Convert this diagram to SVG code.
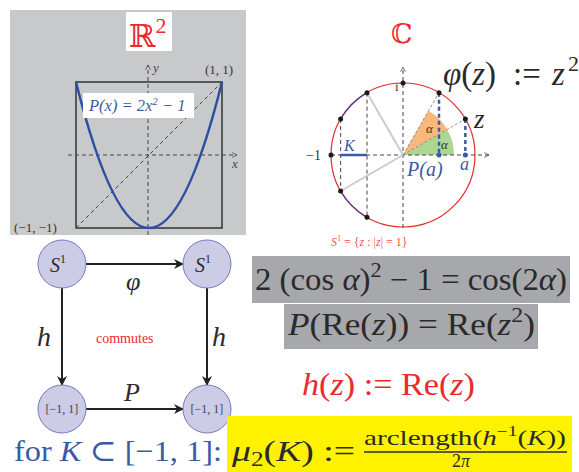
<svg xmlns="http://www.w3.org/2000/svg" width="579" height="472" viewBox="0 0 579 472">
<style>
text{font-family:"Liberation Serif","Times New Roman","DejaVu Serif",serif}
.i{font-style:italic}
.red{fill:#ea2a2f}
.blue{fill:#3a5aa8}
.dk{fill:#2a2a2a}
.dash{stroke:#444;stroke-width:1;stroke-dasharray:4,3;fill:none}
.dot{fill:#1a1a1a}
.node circle{fill:#cccce6;stroke:#7777c0;stroke-width:1}
.arr{stroke:#222;stroke-width:2;fill:none;marker-end:url(#ah)}
</style>
<defs>
<marker id="ah" viewBox="0 0 10 10" refX="9" refY="5" markerWidth="5" markerHeight="5" orient="auto"><path d="M0,0 L10,5 L0,10 L3,5 Z" fill="#222"/></marker>
<marker id="sa" viewBox="0 0 10 10" refX="9" refY="5" markerWidth="6" markerHeight="6" orient="auto"><path d="M1,1 L9,5 L1,9" fill="none" stroke="#444" stroke-width="1.2"/></marker>
</defs>
<rect width="579" height="472" fill="#fff"/>

<!-- left panel R^2 -->
<g id="plot-r2">
<rect x="10" y="10" width="236" height="225" fill="#c8c9cb"/>
<rect x="126" y="12" width="46" height="39" fill="#fff"/>
<text x="129" y="47" class="red" font-size="32">ℝ<tspan font-size="22" dy="-14">2</tspan></text>
<rect x="76" y="82" width="146" height="146" fill="none" stroke="#333" stroke-width="1.5"/>
<line x1="148" y1="235" x2="148" y2="65" class="dash" stroke-width="1.6" marker-end="url(#sa)"/>
<line x1="68" y1="155" x2="237" y2="155" class="dash" stroke-width="1.3" marker-end="url(#sa)"/>
<line x1="76" y1="228" x2="222" y2="82" class="dash" stroke-width="0.9" stroke-dasharray="3,3"/>
<path d="M76,82 Q149,374 222,82" fill="none" stroke="#2d4fa3" stroke-width="2.5"/>
<rect x="83" y="93" width="111" height="25" fill="#fff"/>
<text x="89" y="111" class="i blue" font-size="16.5">P(x) = 2x<tspan font-size="11" dy="-6">2</tspan><tspan dy="6"> − 1</tspan></text>
<text x="153" y="72" class="i" font-size="13" fill="#444">y</text>
<text x="232" y="168" class="i" font-size="13" fill="#444">x</text>
<text x="205" y="74" font-size="13" fill="#333">(1, 1)</text>
<text x="14" y="232" font-size="13" fill="#333">(−1, −1)</text>
</g>

<!-- complex plane -->
<g id="plot-c">
<text x="391" y="43" class="red" font-size="27">ℂ</text>
<text y="85" font-size="33" fill="#2a2a2a"><tspan x="443" font-style="italic">φ</tspan><tspan>(</tspan><tspan font-style="italic">z</tspan><tspan>)</tspan><tspan x="513">:=</tspan><tspan x="552" font-style="italic">z</tspan><tspan x="568" font-size="22" dy="-14">2</tspan></text>
<path d="M403,155 L454,155 A51,51 0 0 0 447.17,129.5 Z" fill="#aed693"/>
<path d="M403,155 L447.17,129.5 A51,51 0 0 0 428.5,110.83 Z" fill="#f8b77b"/>
<circle cx="403" cy="155" r="72" fill="none" stroke="#e8282b" stroke-width="1.2"/>
<path d="M367,92.65 A72,72 0 0 0 340.65,119" fill="none" stroke="#5a3d98" stroke-width="1.4"/>
<path d="M340.65,191 A72,72 0 0 0 367,217.35" fill="none" stroke="#5a3d98" stroke-width="1.4"/>
<line x1="331" y1="155" x2="489" y2="155" class="dash" stroke-width="0.9" marker-end="url(#sa)"/>
<line x1="403" y1="228" x2="403" y2="67" class="dash" stroke-width="0.9" marker-end="url(#sa)"/>
<line x1="403" y1="155" x2="465.35" y2="119" stroke="#777" stroke-width="0.8" stroke-dasharray="3,2"/>
<line x1="403" y1="155" x2="439" y2="92.65" stroke="#777" stroke-width="0.8" stroke-dasharray="3,2"/>
<line x1="403" y1="155" x2="367" y2="92.65" stroke="#cbcbcb" stroke-width="2"/>
<line x1="403" y1="155" x2="340.65" y2="191" stroke="#cbcbcb" stroke-width="2"/>
<line x1="367" y1="92.65" x2="367" y2="217.35" class="dash" stroke="#333"/>
<line x1="340.65" y1="119" x2="340.65" y2="191" class="dash" stroke="#333"/>
<line x1="340.65" y1="155" x2="367" y2="155" stroke="#3a5aa8" stroke-width="2.5"/>
<line x1="439" y1="92.65" x2="439" y2="155" stroke="#3a5aa8" stroke-width="2.5" stroke-dasharray="4,3"/>
<line x1="465.35" y1="119" x2="465.35" y2="155" stroke="#3a5aa8" stroke-width="2.5" stroke-dasharray="4,3"/>
<circle cx="403" cy="83" r="2.5" class="dot"/>
<circle cx="439" cy="92.65" r="2.5" class="dot"/>
<circle cx="465.35" cy="119" r="2.5" class="dot"/>
<circle cx="367" cy="92.65" r="2.5" class="dot"/>
<circle cx="340.65" cy="119" r="2.5" class="dot"/>
<circle cx="331" cy="155" r="2.5" class="dot"/>
<circle cx="340.65" cy="191" r="2.5" class="dot"/>
<circle cx="367" cy="217.35" r="2.5" class="dot"/>
<circle cx="439" cy="155" r="2.5" fill="#3a5aa8"/>
<circle cx="465.35" cy="155" r="2.5" fill="#3a5aa8"/>
<text x="395" y="91" font-size="13" fill="#333">i</text>
<text x="306" y="160" font-size="14" fill="#333">−1</text>
<text x="344" y="151" class="i blue" font-size="16">K</text>
<text x="426" y="133" class="i" font-size="13" fill="#333">α</text>
<text x="441" y="149" class="i" font-size="13" fill="#333">α</text>
<text x="407" y="176" class="i blue" font-size="20">P(a)</text>
<text x="460" y="170" class="i blue" font-size="18">a</text>
<text x="474" y="128" class="i" font-size="27" fill="#2a2a2a">z</text>
<text x="331" y="246" class="red" font-size="12" fill-opacity="0.85"><tspan font-style="italic">S</tspan><tspan font-size="8" dy="-5">1</tspan><tspan dy="5"> = {</tspan><tspan font-style="italic">z</tspan> : |<tspan font-style="italic">z</tspan>| = 1}</text>
</g>

<!-- commutative diagram -->
<g id="connectors">
<line x1="86" y1="264" x2="183" y2="264" class="arr"/>
<line x1="86" y1="409" x2="183" y2="409" class="arr"/>
<line x1="62" y1="288" x2="62" y2="385" class="arr"/>
<line x1="207" y1="288" x2="207" y2="385" class="arr"/>
<text x="126" y="290" class="i dk" font-size="26">φ</text>
<text x="124" y="401" class="i dk" font-size="26">P</text>
<text x="37" y="346" class="i dk" font-size="28">h</text>
<text x="212" y="346" class="i dk" font-size="28">h</text>
<text x="96" y="343" class="red" font-size="14">commutes</text>
</g>
<g id="n-s1-left" class="node"><circle cx="62" cy="264" r="24"/><text x="50" y="272" class="i dk" font-size="20">S<tspan font-size="12" dy="-9" font-style="normal">1</tspan></text></g>
<g id="n-s1-right" class="node"><circle cx="207" cy="264" r="24"/><text x="195" y="272" class="i dk" font-size="20">S<tspan font-size="12" dy="-9" font-style="normal">1</tspan></text></g>
<g id="n-int-left" class="node"><circle cx="62" cy="409" r="24"/><text x="62" y="413" font-size="12" fill="#444" text-anchor="middle">[−1, 1]</text></g>
<g id="n-int-right" class="node"><circle cx="207" cy="409" r="24"/><text x="207" y="413" font-size="12" fill="#444" text-anchor="middle">[−1, 1]</text></g>

<!-- identities -->
<g id="identities">
<rect x="252" y="256" width="318" height="47" fill="#a7a8ab"/>
<rect x="284" y="304" width="254" height="45" fill="#a7a8ab"/>
<text x="255" y="290" class="dk" font-size="31" textLength="312" lengthAdjust="spacingAndGlyphs">2 (cos <tspan font-style="italic">α</tspan>)<tspan font-size="21" dy="-13">2</tspan><tspan dy="13"> − 1 = cos(2</tspan><tspan font-style="italic">α</tspan>)</text>
<text x="288" y="335" class="dk" font-size="31" textLength="247" lengthAdjust="spacingAndGlyphs"><tspan font-style="italic">P</tspan>(Re(<tspan font-style="italic">z</tspan>)) = Re(<tspan font-style="italic">z</tspan><tspan font-size="21" dy="-13">2</tspan><tspan dy="13">)</tspan></text>
<text x="302" y="395" class="red" font-size="31" textLength="173" lengthAdjust="spacingAndGlyphs"><tspan font-style="italic">h</tspan>(<tspan font-style="italic">z</tspan>) := Re(<tspan font-style="italic">z</tspan>)</text>
</g>

<!-- measure definition -->
<g id="measure">
<rect x="227" y="416" width="345" height="56" fill="#fff200"/>
<text x="14" y="461" class="blue" font-size="30" textLength="208" lengthAdjust="spacingAndGlyphs">for <tspan font-style="italic">K</tspan> ⊂ [−1, 1]:</text>
<text x="232" y="461" class="dk" font-size="30" textLength="123" lengthAdjust="spacingAndGlyphs"><tspan font-style="italic">μ</tspan><tspan font-size="20" dy="5">2</tspan><tspan dy="-5">(</tspan><tspan font-style="italic">K</tspan>) :=</text>
<text x="364" y="445" class="dk" font-size="21" textLength="202" lengthAdjust="spacingAndGlyphs">arclength(<tspan font-style="italic">h</tspan><tspan font-size="14" dy="-9">−1</tspan><tspan dy="9">(</tspan><tspan font-style="italic">K</tspan>))</text>
<line x1="364" y1="452" x2="567" y2="452" stroke="#2a2a2a" stroke-width="1.3"/>
<text x="452" y="467" class="dk" font-size="18">2<tspan font-style="italic">π</tspan></text>
</g>
</svg>
